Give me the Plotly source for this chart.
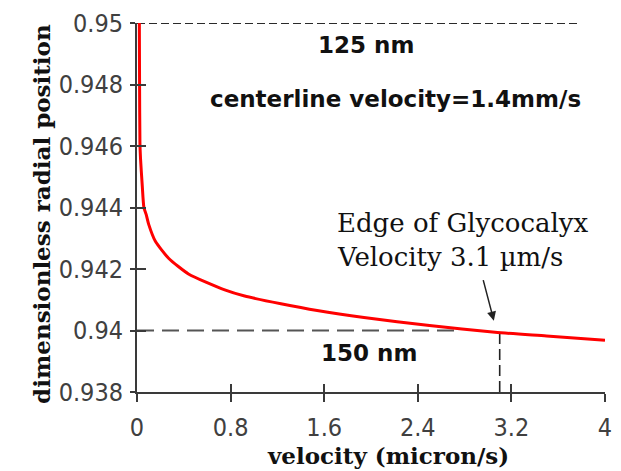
import plotly.graph_objects as go

# Velocity profile near the vessel wall (micron/s vs dimensionless radial position)
velocity = [0.02, 0.022, 0.025, 0.03, 0.045, 0.059, 0.08, 0.10, 0.157, 0.27, 0.44,
            0.75, 0.92, 1.23, 1.54, 1.94, 2.5, 3.06, 3.5, 4.0]
position = [0.9500, 0.9480, 0.9461, 0.9456, 0.9447, 0.9440, 0.94375, 0.94345, 0.9429,
            0.94235, 0.94184, 0.94132, 0.94112, 0.94087, 0.94065, 0.94042,
            0.94016, 0.93994, 0.93982, 0.93968]

x_ticks = [0, 0.8, 1.6, 2.4, 3.2, 4]
x_tick_labels = ["0", "0.8", "1.6", "2.4", "3.2", "4"]
y_ticks = [0.938, 0.94, 0.942, 0.944, 0.946, 0.948, 0.95]
y_tick_labels = ["0.938", "0.94", "0.942", "0.944", "0.946", "0.948", "0.95"]

x_range = [0, 4]
y_range = [0.938, 0.95]

# Reference levels: 125 nm and 150 nm from the wall, glycocalyx edge velocity
pos_125nm = 0.95
pos_150nm = 0.94
x_end_125nm = 3.77
x_end_150nm = 2.77
edge_velocity = 3.1
edge_position = 0.9399

axis_col = "#3a3a3a"
tick_font = dict(family="Liberation Sans Narrow, DejaVu Sans Condensed, DejaVu Sans",
                 size=25, color="#404040")
sans_bold = dict(family="DejaVu Sans", size=23, color="#111111", weight="bold")
serif = dict(family="DejaVu Serif", size=26, color="#111111")
serif_bold = dict(family="DejaVu Serif", size=23, color="#111111", weight="bold")

fig = go.Figure()

# dashed reference lines
fig.add_trace(go.Scatter(x=[0, x_end_125nm], y=[pos_125nm, pos_125nm], mode="lines",
                         line=dict(color="#2a2a2a", width=1.8, dash="8px,4px"),
                         hoverinfo="skip", showlegend=False))
fig.add_trace(go.Scatter(x=[0, x_end_150nm], y=[pos_150nm, pos_150nm], mode="lines",
                         line=dict(color="#555555", width=1.8, dash="17px,8px"),
                         hoverinfo="skip", showlegend=False))
fig.add_trace(go.Scatter(x=[edge_velocity, edge_velocity], y=[y_range[0], edge_position],
                         mode="lines",
                         line=dict(color="#222222", width=1.6, dash="11px,5px"),
                         hoverinfo="skip", showlegend=False))

# velocity profile
fig.add_trace(go.Scatter(x=velocity, y=position, mode="lines",
                         line=dict(color="#ff0000", width=3, shape="spline", smoothing=0.6),
                         showlegend=False))

# companion axes carrying the inward half of each tick mark
fig.add_trace(go.Scatter(x=[None], y=[None], xaxis="x2", yaxis="y2",
                         showlegend=False, hoverinfo="skip"))

fig.update_layout(
    width=621, height=471,
    margin=dict(l=137, r=9, t=20, b=79),
    paper_bgcolor="white", plot_bgcolor="white",
    xaxis=dict(range=x_range, tickvals=x_ticks, ticktext=x_tick_labels,
               showgrid=False, zeroline=False, showline=True,
               linecolor=axis_col, linewidth=2,
               ticks="outside", ticklen=8, tickwidth=2, tickcolor=axis_col,
               tickfont=tick_font, ticklabelstandoff=4),
    yaxis=dict(range=y_range, tickvals=y_ticks, ticktext=y_tick_labels,
               showgrid=False, zeroline=False, showline=True,
               linecolor=axis_col, linewidth=2,
               ticks="outside", ticklen=5, tickwidth=2, tickcolor=axis_col,
               tickfont=tick_font, ticklabelstandoff=2),
    xaxis2=dict(range=x_range, tickvals=x_ticks, overlaying="x", side="bottom",
                showgrid=False, zeroline=False, showline=False,
                ticks="inside", ticklen=8, tickwidth=2, tickcolor=axis_col,
                showticklabels=False),
    yaxis2=dict(range=y_range, tickvals=y_ticks, overlaying="y", side="left",
                showgrid=False, zeroline=False, showline=False,
                ticks="inside", ticklen=9, tickwidth=2, tickcolor=axis_col,
                showticklabels=False),
    showlegend=False,
)

# plot-area size in pixels, used to place the axis titles
plot_w = 621 - 137 - 9
plot_h = 471 - 20 - 79

annotations = [
    dict(x=1.954, y=0.94929, xref="x", yref="y", text="125 nm", showarrow=False,
         font=sans_bold, xanchor="center", yanchor="middle"),
    dict(x=2.21, y=0.94752, xref="x", yref="y", text="centerline velocity=1.4mm/s",
         showarrow=False, font=sans_bold, xanchor="center", yanchor="middle"),
    dict(x=1.98, y=0.93926, xref="x", yref="y", text="150 nm", showarrow=False,
         font=sans_bold, xanchor="center", yanchor="middle"),
    dict(x=1.69, y=0.94348, xref="x", yref="y", text="Edge of Glycocalyx",
         showarrow=False, font=serif, xanchor="left", yanchor="middle"),
    dict(x=1.69, y=0.94239, xref="x", yref="y", text="Velocity 3.1 \u00b5m/s",
         showarrow=False, font=serif, xanchor="left", yanchor="middle"),
    dict(x=3.05, y=0.94032, xref="x", yref="y", text="", showarrow=True,
         ax=-11, ay=-42, arrowhead=2, arrowsize=1.2, arrowwidth=1.5,
         arrowcolor="#222222"),
    dict(x=(392 - 137) / plot_w, y=-(456 - 392) / plot_h, xref="paper", yref="paper",
         text="velocity (micron/s)", showarrow=False, font=serif_bold,
         xanchor="center", yanchor="middle"),
    dict(x=-(137 - 40) / plot_w, y=(392 - 212) / plot_h, xref="paper", yref="paper",
         text="dimensionless radial position", showarrow=False, font=serif_bold,
         textangle=-90, xanchor="center", yanchor="middle"),
]
fig.update_layout(annotations=annotations)

fig.write_html("out.html")
